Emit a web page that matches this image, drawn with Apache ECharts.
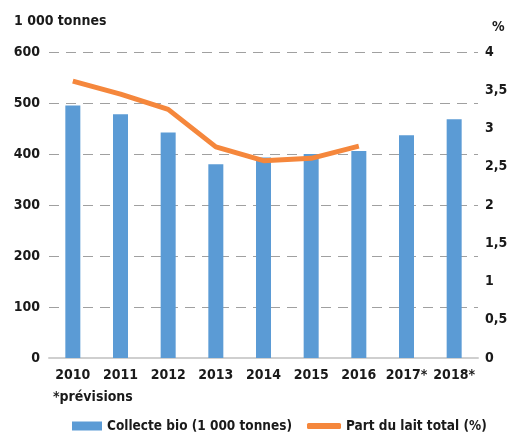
<!DOCTYPE html>
<html>
<head>
<meta charset="utf-8">
<script src="https://cdn.jsdelivr.net/npm/echarts@6/dist/echarts.min.js"></script>
<style>
  html, body { margin: 0; padding: 0; background: #fff; }
  #chart { width: 515px; height: 432px; }
</style>
</head>
<body>
<div id="chart"></div>
<script>
// Organic milk collection (thousand tonnes) and its share of total milk (%)
const years = ['2010', '2011', '2012', '2013', '2014', '2015', '2016', '2017*', '2018*'];
const collecte = [495, 478, 442, 380, 393, 400, 406, 437, 468];
const partLait = [3.62, 3.45, 3.25, 2.76, 2.58, 2.61, 2.77, null, null];

const FONT = "'DejaVu Sans Condensed', sans-serif";
const TXT = '#1a1a1a';
const BLUE = '#5b9bd5';
const ORANGE = '#f5873c';
const FS = 14;
const FW = 'bold';

const chart = echarts.init(document.getElementById('chart'), null, { renderer: 'canvas' });

const legendText = { fontFamily: FONT, fontSize: 13.5, fontWeight: FW, color: TXT };

chart.setOption({
  animation: false,
  textStyle: { fontFamily: FONT },
  grid: { left: 49, right: 37, top: 52, bottom: 74 },
  graphic: [
    { type: 'text', left: 14, top: 14,
      style: { text: '1 000 tonnes', font: FW + ' ' + FS + 'px ' + FONT, fill: TXT } },
    { type: 'text', left: 492, top: 20,
      style: { text: '%', font: FW + ' ' + FS + 'px ' + FONT, fill: TXT } },
    { type: 'text', left: 53, top: 390,
      style: { text: '*prévisions', font: FW + ' ' + FS + 'px ' + FONT, fill: TXT } }
  ],
  legend: [
    {
      left: 67, top: 414,
      itemWidth: 30, itemHeight: 9, itemGap: 8,
      textStyle: legendText,
      data: [{ name: 'Collecte bio (1 000 tonnes)', icon: 'rect' }]
    },
    {
      left: 302, top: 414,
      itemWidth: 34, itemHeight: 6,
      textStyle: legendText,
      data: [{ name: 'Part du lait total (%)', icon: 'roundRect' }]
    }
  ],
  xAxis: {
    type: 'category',
    data: years,
    axisTick: { show: false },
    axisLine: { lineStyle: { color: '#cfcfcf', width: 2 } },
    axisLabel: { color: TXT, fontSize: FS, fontWeight: FW, margin: 10, fontFamily: FONT, interval: 0 }
  },
  yAxis: [
    {
      type: 'value', min: 0, max: 600, interval: 100,
      axisLabel: { color: TXT, fontSize: FS, fontWeight: FW, margin: 9, fontFamily: FONT },
      axisLine: { show: false }, axisTick: { show: false },
      splitLine: { lineStyle: { color: '#a0a0a0', type: [10, 7], width: 1 } }
    },
    {
      type: 'value', min: 0, max: 4, interval: 0.5,
      position: 'right',
      axisLabel: {
        color: TXT, fontSize: FS, fontWeight: FW, margin: 7, fontFamily: FONT,
        formatter: v => String(v).replace('.', ',')
      },
      axisLine: { show: false }, axisTick: { show: false },
      splitLine: { show: false }
    }
  ],
  series: [
    {
      name: 'Collecte bio (1 000 tonnes)',
      type: 'bar',
      data: collecte,
      barWidth: 15,
      itemStyle: { color: BLUE },
      yAxisIndex: 0
    },
    {
      name: 'Part du lait total (%)',
      type: 'line',
      data: partLait,
      yAxisIndex: 1,
      symbol: 'none',
      lineStyle: { color: ORANGE, width: 5 },
      itemStyle: { color: ORANGE }
    }
  ]
});
</script>
</body>
</html>
